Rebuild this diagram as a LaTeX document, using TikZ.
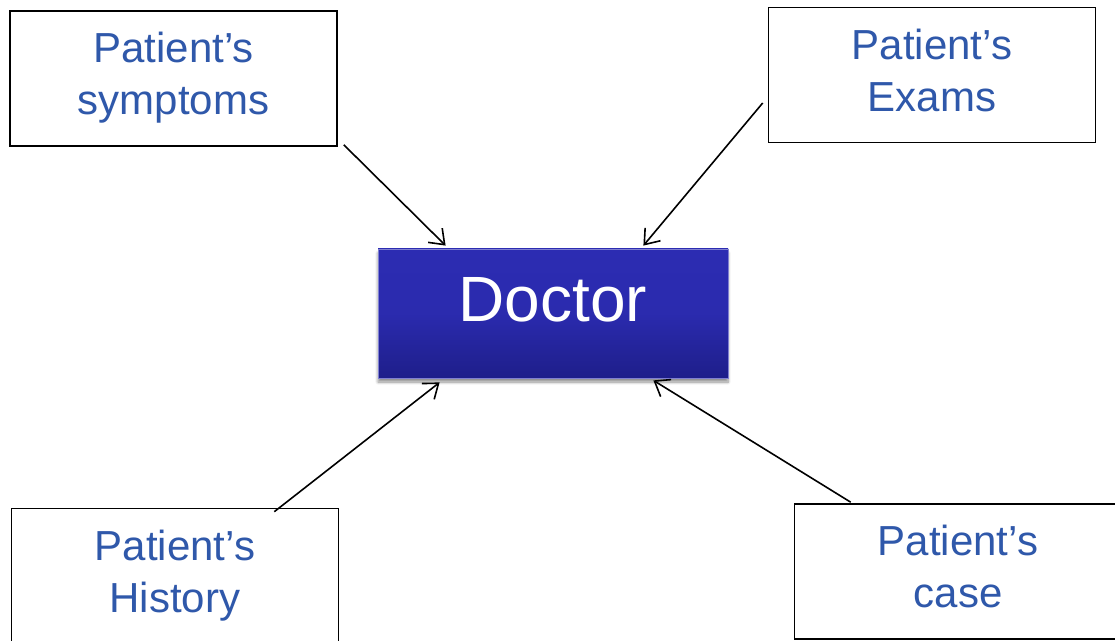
\documentclass[tikz,border=0pt]{standalone}
\usepackage{fontspec}
\setmainfont{Liberation Sans}
\usetikzlibrary{arrows.meta,shadows.blur}
\definecolor{txtblue}{RGB}{47,88,170}
\definecolor{doctop}{RGB}{44,44,178}
\definecolor{docbot}{RGB}{30,30,138}
\tikzset{
  pbox/.style={draw=black, line width=1.2pt, fill=white, minimum width=327*0.75pt, minimum height=135*0.75pt,
    text=txtblue, align=center, inner sep=0pt,
    font=\fontsize{31.5pt}{39pt}\selectfont},
  docbox/.style={draw=doctop!60!white, line width=0.6pt, top color=doctop, bottom color=docbot, middle color=doctop!90!docbot,
    minimum width=350*0.75pt, minimum height=129*0.75pt, inner sep=0pt, text=white,
    font=\fontsize{48pt}{55pt}\selectfont, text height=34.5pt, text depth=22pt,
    blur shadow={shadow xshift=0pt, shadow yshift=-3pt, shadow blur steps=6, shadow opacity=45}},
  conn/.style={line width=1.2pt, -{Straight Barb[length=10pt,width=15pt,line width=1.2pt]}}
}
\newcommand{\lstr}{\rule[-11.7pt]{0pt}{39pt}}
\begin{document}
\begin{tikzpicture}[x=0.75pt, y=-0.75pt]
\useasboundingbox (0,0) rectangle (1115,641);
\node[pbox] (sym) at (173.5,78.5) {\lstr Patient’s\\\lstr symptoms};
\node[pbox] (exa) at (932,75) {\lstr Patient’s\\\lstr Exams};
\node[pbox] (his) at (175,576) {\lstr Patient’s\\\lstr History};
\node[pbox] (cas) at (958,571.5) {\lstr Patient’s\\\lstr case};
\node[docbox] (doc) at (553,313.5) {Doctor};
\draw[conn] ([shift={(6,-2)}]sym.south east) -- ([shift={(68,-3)}]doc.north west);
\draw[conn] ([shift={(-5,28)}]exa.west) -- ([shift={(-85,-3)}]doc.north east);
\draw[conn] ([shift={(-65,4)}]his.north east) -- ([shift={(62,4)}]doc.south west);
\draw[conn] ([shift={(57,-1)}]cas.north west) -- ([shift={(-75,2)}]doc.south east);
\end{tikzpicture}
\end{document}
